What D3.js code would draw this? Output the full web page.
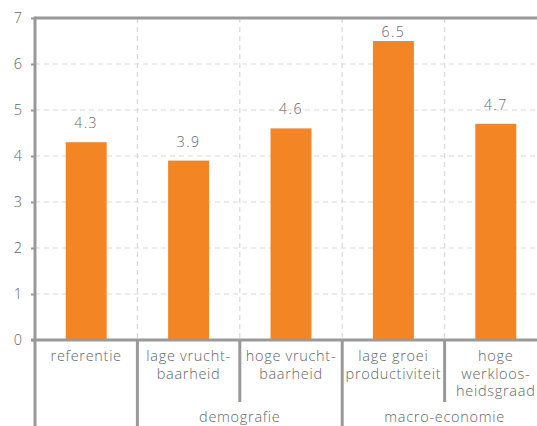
<!DOCTYPE html>
<html>
<head>
<meta charset="utf-8">
<script src="https://cdn.jsdelivr.net/npm/d3@7"></script>
<style>
body { margin: 0; background: #fff; }
text { font-family: "Open Sans", sans-serif; font-weight: 300; fill: #666; }
</style>
</head>
<body>
<script>
// scenario data
var categories = ["referentie", "lage vrucht-baarheid", "hoge vrucht-baarheid", "lage groei productiviteit", "hoge werkloos-heidsgraad"];
var labelLines = [["referentie"], ["lage vrucht-", "baarheid"], ["hoge vrucht-", "baarheid"], ["lage groei", "productiviteit"], ["hoge", "werkloos-", "heidsgraad"]];
var values = [4.3, 3.9, 4.6, 6.5, 4.7];
var groupNames = ["", "demografie", "macro-economie"];
var groupOf = [0, 1, 1, 2, 2];
var yTicks = [0, 1, 2, 3, 4, 5, 6, 7];

var w = 537, h = 426;
var plotLeft = 35, plotRight = 547, plotTop = 18, zero = 340;

var svg = d3.select("body").append("svg")
	.attr("width", w)
	.attr("height", h);

var x = d3.scaleBand().domain(categories).range([plotLeft, plotRight]).padding(0);
var y = d3.scaleLinear().domain([0, 7]).range([zero, plotTop]);
var bw = x.bandwidth();

// horizontal grid
svg.selectAll("line.hgrid")
	.data(yTicks.filter(function(d) { return d > 0 && d < 7; }))
	.enter().append("line")
	.attr("x1", plotLeft).attr("x2", w)
	.attr("y1", function(d) { return y(d); })
	.attr("y2", function(d) { return y(d); })
	.attr("stroke", "#d9d9d9").attr("stroke-width", 1.2).attr("stroke-dasharray", "5,4");

// vertical grid between categories
svg.selectAll("line.vgrid")
	.data(categories.slice(1))
	.enter().append("line")
	.attr("x1", function(d) { return x(d); })
	.attr("x2", function(d) { return x(d); })
	.attr("y1", plotTop).attr("y2", zero)
	.attr("stroke", "#d9d9d9").attr("stroke-width", 1.2).attr("stroke-dasharray", "5,4");

// bars
svg.selectAll("rect.bar")
	.data(values)
	.enter().append("rect")
	.attr("x", function(d, i) { return x(categories[i]) + bw * 0.3; })
	.attr("width", bw * 0.4)
	.attr("y", function(d) { return y(d); })
	.attr("height", function(d) { return zero - y(d); })
	.attr("fill", "#f48524");

// value labels (kept inside the plot at the top)
svg.selectAll("text.val")
	.data(values)
	.enter().append("text")
	.attr("x", function(d, i) { return x(categories[i]) + bw / 2; })
	.attr("y", function(d) { return Math.max(y(d) - 14, plotTop + 19); })
	.attr("text-anchor", "middle")
	.style("font-size", "14px")
	.style("letter-spacing", "1.5px")
	.text(function(d) { return d.toFixed(1); });

// y axis
var yAxis = svg.append("g")
	.attr("transform", "translate(" + plotLeft + ",0)")
	.call(d3.axisLeft(y).tickValues(yTicks).tickSize(4).tickPadding(9).tickFormat(d3.format("d")));
yAxis.select(".domain").remove();
yAxis.selectAll(".tick line").attr("stroke", "#999").attr("stroke-width", 2);
yAxis.selectAll(".tick text").style("font-size", "14.5px").attr("fill", "#666");

// frame lines
svg.append("line").attr("x1", plotLeft).attr("x2", w).attr("y1", plotTop).attr("y2", plotTop)
	.attr("stroke", "#999").attr("stroke-width", 3);
svg.append("line").attr("x1", plotLeft).attr("x2", plotLeft).attr("y1", plotTop - 1.5).attr("y2", h)
	.attr("stroke", "#999").attr("stroke-width", 3);
svg.append("line").attr("x1", plotLeft - 4).attr("x2", w).attr("y1", zero).attr("y2", zero)
	.attr("stroke", "#999").attr("stroke-width", 3);

// category separators below the axis
categories.forEach(function(c, i) {
	if (i === 0) return;
	var longLine = groupOf[i] !== groupOf[i - 1];
	svg.append("line")
		.attr("x1", x(c)).attr("x2", x(c))
		.attr("y1", zero).attr("y2", longLine ? h : 402)
		.attr("stroke", "#999").attr("stroke-width", 3);
});

// category labels
labelLines.forEach(function(lines, i) {
	var t = svg.append("text")
		.attr("x", x(categories[i]) + bw / 2)
		.attr("y", 361)
		.attr("text-anchor", "middle")
		.style("font-size", "14.5px")
		.style("letter-spacing", "0.7px");
	lines.forEach(function(l, k) {
		t.append("tspan")
			.attr("x", x(categories[i]) + bw / 2)
			.attr("dy", k === 0 ? 0 : 17.5)
			.text(l);
	});
});

// group labels
groupNames.forEach(function(g, gi) {
	if (!g) return;
	var idx = groupOf.map(function(v, i) { return v === gi ? i : -1; }).filter(function(i) { return i >= 0; });
	var x0 = x(categories[idx[0]]);
	var x1 = x(categories[idx[idx.length - 1]]) + bw;
	svg.append("text")
		.attr("x", (x0 + x1) / 2)
		.attr("y", 422)
		.attr("text-anchor", "middle")
		.style("font-size", "14.5px")
		.style("letter-spacing", "0.7px")
		.text(g);
});
</script>
</body>
</html>
